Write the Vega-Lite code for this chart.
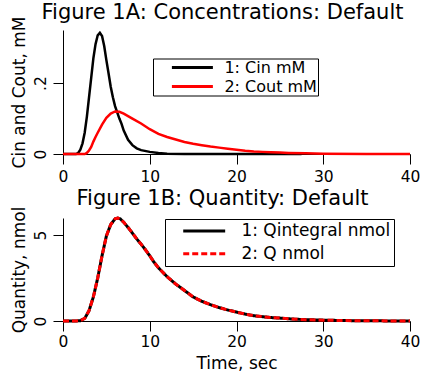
{
  "$schema": "https://vega.github.io/schema/vega-lite/v6.json",
  "background": "white",
  "padding": {"left": 9, "top": 2, "right": 5, "bottom": 0},
  "config": {
    "font": "DejaVu Sans",
    "view": {"stroke": null},
    "axis": {"grid": false, "domainColor": "black", "tickColor": "black", "labelColor": "black", "titleColor": "black", "labelFontSize": 15.5, "titleFontSize": 17, "titleFontWeight": "normal", "tickSize": 10, "domainWidth": 1, "tickWidth": 1, "labelPadding": 5, "labelFlush": false},
    "axisY": {"labelPadding": 5, "titlePadding": 5},
    "title": {"fontSize": 21, "fontWeight": "normal", "color": "black"},
    "legend": {"labelColor": "black", "labelFontSize": 17}
  },
  "datasets": {
    "conc": [
      {"series": "1: Cin mM", "t": 0, "v": 0},
      {"series": "1: Cin mM", "t": 1.5, "v": 0},
      {"series": "1: Cin mM", "t": 1.75, "v": 0.003},
      {"series": "1: Cin mM", "t": 2.0, "v": 0.012},
      {"series": "1: Cin mM", "t": 2.25, "v": 0.03},
      {"series": "1: Cin mM", "t": 2.5, "v": 0.06},
      {"series": "1: Cin mM", "t": 2.75, "v": 0.105},
      {"series": "1: Cin mM", "t": 3.0, "v": 0.16},
      {"series": "1: Cin mM", "t": 3.25, "v": 0.215},
      {"series": "1: Cin mM", "t": 3.5, "v": 0.27},
      {"series": "1: Cin mM", "t": 3.75, "v": 0.31},
      {"series": "1: Cin mM", "t": 4.0, "v": 0.335},
      {"series": "1: Cin mM", "t": 4.25, "v": 0.342},
      {"series": "1: Cin mM", "t": 4.5, "v": 0.333},
      {"series": "1: Cin mM", "t": 4.75, "v": 0.305},
      {"series": "1: Cin mM", "t": 5.0, "v": 0.265},
      {"series": "1: Cin mM", "t": 5.25, "v": 0.228},
      {"series": "1: Cin mM", "t": 5.5, "v": 0.19},
      {"series": "1: Cin mM", "t": 5.75, "v": 0.16},
      {"series": "1: Cin mM", "t": 6.0, "v": 0.135},
      {"series": "1: Cin mM", "t": 6.5, "v": 0.1},
      {"series": "1: Cin mM", "t": 6.75, "v": 0.085},
      {"series": "1: Cin mM", "t": 7.0, "v": 0.066},
      {"series": "1: Cin mM", "t": 7.5, "v": 0.04},
      {"series": "1: Cin mM", "t": 8.0, "v": 0.025},
      {"series": "1: Cin mM", "t": 8.5, "v": 0.016},
      {"series": "1: Cin mM", "t": 9.0, "v": 0.011},
      {"series": "1: Cin mM", "t": 10, "v": 0.006},
      {"series": "1: Cin mM", "t": 11, "v": 0.003},
      {"series": "1: Cin mM", "t": 12, "v": 0.001},
      {"series": "1: Cin mM", "t": 14, "v": 0.0002},
      {"series": "1: Cin mM", "t": 16, "v": 0},
      {"series": "1: Cin mM", "t": 27.5, "v": 0},
      {"series": "2: Cout mM", "t": 0, "v": 0},
      {"series": "2: Cout mM", "t": 2.5, "v": 0},
      {"series": "2: Cout mM", "t": 2.75, "v": 0.003},
      {"series": "2: Cout mM", "t": 3.0, "v": 0.01},
      {"series": "2: Cout mM", "t": 3.25, "v": 0.02},
      {"series": "2: Cout mM", "t": 3.5, "v": 0.035},
      {"series": "2: Cout mM", "t": 3.75, "v": 0.048},
      {"series": "2: Cout mM", "t": 4.0, "v": 0.06},
      {"series": "2: Cout mM", "t": 4.5, "v": 0.083},
      {"series": "2: Cout mM", "t": 5.0, "v": 0.102},
      {"series": "2: Cout mM", "t": 5.5, "v": 0.114},
      {"series": "2: Cout mM", "t": 6.0, "v": 0.12},
      {"series": "2: Cout mM", "t": 6.5, "v": 0.119},
      {"series": "2: Cout mM", "t": 7.0, "v": 0.114},
      {"series": "2: Cout mM", "t": 8.0, "v": 0.1},
      {"series": "2: Cout mM", "t": 9.0, "v": 0.086},
      {"series": "2: Cout mM", "t": 10, "v": 0.07},
      {"series": "2: Cout mM", "t": 11, "v": 0.057},
      {"series": "2: Cout mM", "t": 12, "v": 0.048},
      {"series": "2: Cout mM", "t": 13, "v": 0.041},
      {"series": "2: Cout mM", "t": 14, "v": 0.034},
      {"series": "2: Cout mM", "t": 15, "v": 0.029},
      {"series": "2: Cout mM", "t": 16, "v": 0.025},
      {"series": "2: Cout mM", "t": 17, "v": 0.021},
      {"series": "2: Cout mM", "t": 18, "v": 0.018},
      {"series": "2: Cout mM", "t": 19, "v": 0.015},
      {"series": "2: Cout mM", "t": 20, "v": 0.012},
      {"series": "2: Cout mM", "t": 21, "v": 0.009},
      {"series": "2: Cout mM", "t": 22, "v": 0.007},
      {"series": "2: Cout mM", "t": 23, "v": 0.006},
      {"series": "2: Cout mM", "t": 24, "v": 0.005},
      {"series": "2: Cout mM", "t": 25, "v": 0.004},
      {"series": "2: Cout mM", "t": 26, "v": 0.003},
      {"series": "2: Cout mM", "t": 28, "v": 0.002},
      {"series": "2: Cout mM", "t": 30, "v": 0.001},
      {"series": "2: Cout mM", "t": 35, "v": 0.0003},
      {"series": "2: Cout mM", "t": 40, "v": 0}
    ],
    "qty": [
      {"series": "1: Qintegral nmol", "t": 0, "v": 0},
      {"series": "1: Qintegral nmol", "t": 1.5, "v": 0},
      {"series": "1: Qintegral nmol", "t": 2.0, "v": 0.02},
      {"series": "1: Qintegral nmol", "t": 2.5, "v": 0.15},
      {"series": "1: Qintegral nmol", "t": 3.0, "v": 0.6},
      {"series": "1: Qintegral nmol", "t": 3.5, "v": 1.4},
      {"series": "1: Qintegral nmol", "t": 4.0, "v": 2.5},
      {"series": "1: Qintegral nmol", "t": 4.5, "v": 3.8},
      {"series": "1: Qintegral nmol", "t": 5.0, "v": 4.95},
      {"series": "1: Qintegral nmol", "t": 5.5, "v": 5.62},
      {"series": "1: Qintegral nmol", "t": 6.0, "v": 5.95},
      {"series": "1: Qintegral nmol", "t": 6.3, "v": 6.0},
      {"series": "1: Qintegral nmol", "t": 6.6, "v": 5.95},
      {"series": "1: Qintegral nmol", "t": 7.0, "v": 5.75},
      {"series": "1: Qintegral nmol", "t": 7.5, "v": 5.45},
      {"series": "1: Qintegral nmol", "t": 8.0, "v": 5.12},
      {"series": "1: Qintegral nmol", "t": 8.5, "v": 4.78},
      {"series": "1: Qintegral nmol", "t": 9.0, "v": 4.48},
      {"series": "1: Qintegral nmol", "t": 9.5, "v": 4.15},
      {"series": "1: Qintegral nmol", "t": 10, "v": 3.8},
      {"series": "1: Qintegral nmol", "t": 10.5, "v": 3.42},
      {"series": "1: Qintegral nmol", "t": 11, "v": 3.1},
      {"series": "1: Qintegral nmol", "t": 12, "v": 2.58},
      {"series": "1: Qintegral nmol", "t": 13, "v": 2.15},
      {"series": "1: Qintegral nmol", "t": 14, "v": 1.78},
      {"series": "1: Qintegral nmol", "t": 15, "v": 1.4},
      {"series": "1: Qintegral nmol", "t": 16, "v": 1.15},
      {"series": "1: Qintegral nmol", "t": 17, "v": 0.95},
      {"series": "1: Qintegral nmol", "t": 18, "v": 0.78},
      {"series": "1: Qintegral nmol", "t": 19, "v": 0.64},
      {"series": "1: Qintegral nmol", "t": 20, "v": 0.52},
      {"series": "1: Qintegral nmol", "t": 21, "v": 0.4},
      {"series": "1: Qintegral nmol", "t": 22, "v": 0.31},
      {"series": "1: Qintegral nmol", "t": 23, "v": 0.25},
      {"series": "1: Qintegral nmol", "t": 24, "v": 0.2},
      {"series": "1: Qintegral nmol", "t": 25, "v": 0.17},
      {"series": "1: Qintegral nmol", "t": 26, "v": 0.13},
      {"series": "1: Qintegral nmol", "t": 27, "v": 0.1},
      {"series": "1: Qintegral nmol", "t": 28, "v": 0.08},
      {"series": "1: Qintegral nmol", "t": 30, "v": 0.05},
      {"series": "1: Qintegral nmol", "t": 32, "v": 0.03},
      {"series": "1: Qintegral nmol", "t": 35, "v": 0.01},
      {"series": "1: Qintegral nmol", "t": 40, "v": 0.003},
      {"series": "2: Q nmol", "t": 0, "v": 0},
      {"series": "2: Q nmol", "t": 1.5, "v": 0},
      {"series": "2: Q nmol", "t": 2.0, "v": 0.02},
      {"series": "2: Q nmol", "t": 2.5, "v": 0.15},
      {"series": "2: Q nmol", "t": 3.0, "v": 0.6},
      {"series": "2: Q nmol", "t": 3.5, "v": 1.4},
      {"series": "2: Q nmol", "t": 4.0, "v": 2.5},
      {"series": "2: Q nmol", "t": 4.5, "v": 3.8},
      {"series": "2: Q nmol", "t": 5.0, "v": 4.95},
      {"series": "2: Q nmol", "t": 5.5, "v": 5.62},
      {"series": "2: Q nmol", "t": 6.0, "v": 5.95},
      {"series": "2: Q nmol", "t": 6.3, "v": 6.0},
      {"series": "2: Q nmol", "t": 6.6, "v": 5.95},
      {"series": "2: Q nmol", "t": 7.0, "v": 5.75},
      {"series": "2: Q nmol", "t": 7.5, "v": 5.45},
      {"series": "2: Q nmol", "t": 8.0, "v": 5.12},
      {"series": "2: Q nmol", "t": 8.5, "v": 4.78},
      {"series": "2: Q nmol", "t": 9.0, "v": 4.48},
      {"series": "2: Q nmol", "t": 9.5, "v": 4.15},
      {"series": "2: Q nmol", "t": 10, "v": 3.8},
      {"series": "2: Q nmol", "t": 10.5, "v": 3.42},
      {"series": "2: Q nmol", "t": 11, "v": 3.1},
      {"series": "2: Q nmol", "t": 12, "v": 2.58},
      {"series": "2: Q nmol", "t": 13, "v": 2.15},
      {"series": "2: Q nmol", "t": 14, "v": 1.78},
      {"series": "2: Q nmol", "t": 15, "v": 1.4},
      {"series": "2: Q nmol", "t": 16, "v": 1.15},
      {"series": "2: Q nmol", "t": 17, "v": 0.95},
      {"series": "2: Q nmol", "t": 18, "v": 0.78},
      {"series": "2: Q nmol", "t": 19, "v": 0.64},
      {"series": "2: Q nmol", "t": 20, "v": 0.52},
      {"series": "2: Q nmol", "t": 21, "v": 0.4},
      {"series": "2: Q nmol", "t": 22, "v": 0.31},
      {"series": "2: Q nmol", "t": 23, "v": 0.25},
      {"series": "2: Q nmol", "t": 24, "v": 0.2},
      {"series": "2: Q nmol", "t": 25, "v": 0.17},
      {"series": "2: Q nmol", "t": 26, "v": 0.13},
      {"series": "2: Q nmol", "t": 27, "v": 0.1},
      {"series": "2: Q nmol", "t": 28, "v": 0.08},
      {"series": "2: Q nmol", "t": 30, "v": 0.05},
      {"series": "2: Q nmol", "t": 32, "v": 0.03},
      {"series": "2: Q nmol", "t": 35, "v": 0.01},
      {"series": "2: Q nmol", "t": 40, "v": 0.003}
    ]
  },
  "vconcat": [
    {
      "title": {"text": "Figure 1A: Concentrations: Default", "dx": -14, "frame": "group", "offset": -7},
      "width": 347,
      "height": 124,
      "data": {"name": "conc"},
      "mark": {"type": "line", "strokeWidth": 2.5},
      "encoding": {
        "x": {"field": "t", "type": "quantitative", "scale": {"domain": [0, 40], "nice": false}, "axis": {"values": [0, 10, 20, 30, 40], "title": null, "labelPadding": 5}},
        "y": {"field": "v", "type": "quantitative", "scale": {"domain": [0, 0.35], "nice": false}, "axis": {"values": [0, 0.2], "labelExpr": "datum.value == 0 ? '0' : '.2'", "labelAngle": 270, "title": "Cin and Cout, mM"}},
        "color": {"field": "series", "type": "nominal", "scale": {"domain": ["1: Cin mM", "2: Cout mM"], "range": ["black", "red"]},
          "legend": {"orient": "none", "legendX": 90, "legendY": 28.5, "title": null, "symbolType": "M-4,0H4", "symbolSize": 105, "symbolStrokeWidth": 3, "strokeColor": "black", "fillColor": "white", "padding": 1, "rowPadding": 3, "labelFontSize": 16, "symbolOffset": 30.4, "labelOffset": 24, "labelExpr": "datum.label + '\u00a0\u00a0\u00a0'"}}
      }
    },
    {
      "title": {"text": "Figure 1B: Quantity: Default", "dx": -14, "frame": "group", "offset": -3},
      "width": 347,
      "height": 103,
      "data": {"name": "qty"},
      "mark": {"type": "line", "strokeWidth": 3},
      "encoding": {
        "x": {"field": "t", "type": "quantitative", "scale": {"domain": [0, 40], "nice": false}, "axis": {"values": [0, 10, 20, 30, 40], "title": "Time, sec", "labelPadding": 3, "titlePadding": 6}},
        "y": {"field": "v", "type": "quantitative", "scale": {"domain": [0, 6], "nice": false}, "axis": {"values": [0, 5], "labelAngle": 270, "title": "Quantity, nmol"}},
        "color": {"field": "series", "type": "nominal", "scale": {"domain": ["1: Qintegral nmol", "2: Q nmol"], "range": ["black", "red"]},
          "legend": {"orient": "none", "legendX": 102, "legendY": 1, "title": null, "symbolType": "M-4,0H4", "symbolSize": 110, "symbolStrokeWidth": 3, "strokeColor": "black", "fillColor": "white", "padding": 3.5, "rowPadding": 4.7, "symbolOffset": 27.2, "labelOffset": 28.7, "labelExpr": "datum.label + '\u00a0\u00a0'"}},
        "strokeDash": {"field": "series", "type": "nominal", "scale": {"domain": ["1: Qintegral nmol", "2: Q nmol"], "range": [[1, 0], [6, 3]]},
          "legend": {"orient": "none", "legendX": 102, "legendY": 1, "title": null, "symbolType": "M-4,0H4", "symbolSize": 110, "symbolStrokeWidth": 3, "strokeColor": "black", "fillColor": "white", "padding": 3.5, "rowPadding": 4.7, "symbolOffset": 27.2, "labelOffset": 28.7, "labelExpr": "datum.label + '\u00a0\u00a0'"}}
      }
    }
  ],
  "spacing": 3,
  "resolve": {"scale": {"color": "independent", "strokeDash": "independent"}, "legend": {"color": "independent", "strokeDash": "independent"}}
}
